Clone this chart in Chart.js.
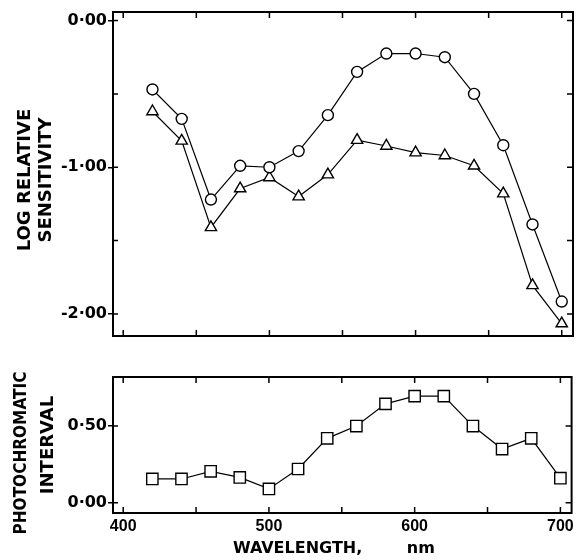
<!DOCTYPE html>
<html>
<head>
<meta charset="utf-8">
<script src="https://cdn.jsdelivr.net/npm/chart.js@4.4.0/dist/chart.umd.min.js"></script>
<style>
  html, body { margin: 0; padding: 0; background: #fff; }
  #wrap { position: relative; width: 581px; height: 560px; }
  #topBox { position: absolute; left: 0; top: 0; width: 581px; height: 350px; }
  #botBox { position: absolute; left: 0; top: 360px; width: 581px; height: 200px; }
</style>
</head>
<body>
<div id="wrap">
  <div id="topBox"><canvas id="sensChart"></canvas></div>
  <div id="botBox"><canvas id="intervalChart"></canvas></div>
</div>
<script>
// wavelength, nm
const wavelengths = [420, 440, 460, 480, 500, 520, 540, 560, 580, 600, 620, 640, 660, 680, 700];
// circles - achromatic (detection) threshold
const achromaticSens = [-0.47, -0.67, -1.22, -0.99, -1.00, -0.89, -0.645, -0.35, -0.225, -0.225, -0.25, -0.50, -0.85, -1.39, -1.915];
// triangles - chromatic threshold
const chromaticSens = [-0.62, -0.82, -1.41, -1.145, -1.07, -1.20, -1.05, -0.815, -0.855, -0.90, -0.92, -0.99, -1.18, -1.805, -2.065];
// squares - photochromatic interval
const photochromaticInterval = [0.155, 0.155, 0.205, 0.165, 0.09, 0.22, 0.42, 0.50, 0.645, 0.695, 0.695, 0.50, 0.35, 0.42, 0.16];

const sensTitle = ['LOG RELATIVE', 'SENSITIVITY'];
const intervalTitle = ['PHOTOCHROMATIC', 'INTERVAL'];
const xTitle = 'WAVELENGTH,        nm   ';

Chart.defaults.font.family = '"DejaVu Sans"';
Chart.defaults.color = '#000';

const isWhole = v => Math.abs(v - Math.round(v)) < 1e-6;
const fmt = v => (v < -1e-9 ? '-' : '') + Math.abs(v).toFixed(2).replace('.', '·');

// box round the plot + inward ticks on all four sides
const framePlugin = {
  id: 'frame',
  beforeDatasetsDraw(chart) {
    const { ctx, chartArea: a, scales } = chart;
    ctx.save();
    ctx.strokeStyle = '#000';
    ctx.lineWidth = 2;
    ctx.strokeRect(a.left, a.top, a.right - a.left, a.bottom - a.top);
    ctx.lineWidth = 1.5;
    ctx.beginPath();
    scales.x.ticks.forEach(t => {
      const px = scales.x.getPixelForValue(t.value);
      ctx.moveTo(px, a.top); ctx.lineTo(px, a.top + 6);
      ctx.moveTo(px, a.bottom); ctx.lineTo(px, a.bottom - 6);
    });
    scales.y.ticks.forEach(t => {
      const py = scales.y.getPixelForValue(t.value);
      ctx.moveTo(a.left, py); ctx.lineTo(a.left + 5, py);
      ctx.moveTo(a.right, py); ctx.lineTo(a.right - 6, py);
    });
    ctx.stroke();
    ctx.restore();
  }
};

// rotated two-line title on the left
function sideTitle(lines, spots) {
  return {
    id: 'sideTitle',
    afterDraw(chart) {
      const ctx = chart.ctx;
      ctx.save();
      ctx.fillStyle = '#000';
      ctx.textAlign = 'center';
      ctx.textBaseline = 'middle';
      lines.forEach((txt, i) => {
        const s = spots[i];
        ctx.save();
        ctx.translate(s.x, s.y);
        ctx.rotate(-Math.PI / 2);
        ctx.font = 'bold ' + s.size + 'px "DejaVu Sans"';
        ctx.fillText(txt, 0, 0, s.len);
        ctx.restore();
      });
      ctx.restore();
    }
  };
}

const yTickFont = { size: 16, weight: 'bold', family: '"DejaVu Sans"' };
const leftGrid = {
  drawOnChartArea: false,
  drawTicks: true,
  tickLength: 5,
  lineWidth: 1.5,
  color: c => (c.tick && isWhole(c.tick.value)) ? '#000' : 'rgba(0,0,0,0)'
};

// 上图：灵敏度
new Chart(document.getElementById('sensChart'), {
  type: 'line',
  data: {
    datasets: [
      {
        data: wavelengths.map((w, i) => ({ x: w, y: achromaticSens[i] })),
        borderColor: '#000', borderWidth: 1.2,
        pointStyle: 'circle', pointRadius: 5.5, pointBorderWidth: 1.4,
        pointBackgroundColor: '#fff', pointBorderColor: '#000'
      },
      {
        data: wavelengths.map((w, i) => ({ x: w, y: chromaticSens[i] })),
        borderColor: '#000', borderWidth: 1.2,
        pointStyle: 'triangle', pointRadius: 6.5, pointBorderWidth: 1.4,
        pointBackgroundColor: '#fff', pointBorderColor: '#000'
      }
    ]
  },
  options: {
    responsive: true,
    maintainAspectRatio: false,
    animation: false,
    layout: { padding: { top: 12, right: 8, left: 0, bottom: 0 } },
    plugins: { legend: { display: false }, tooltip: { enabled: false } },
    scales: {
      x: {
        type: 'linear', min: 393, max: 707.7,
        ticks: { display: false, stepSize: 50, includeBounds: false },
        grid: { display: false, drawTicks: false },
        border: { display: false },
        afterFit: s => { s.height = 14; }
      },
      y: {
        min: -2.15, max: 0.058,
        ticks: {
          stepSize: 0.5, includeBounds: false, padding: 1,
          font: yTickFont,
          callback: v => isWhole(v) ? fmt(v) : ''
        },
        grid: leftGrid,
        border: { display: false },
        afterFit: s => { s.width = 113; }
      }
    }
  },
  plugins: [framePlugin, sideTitle(sensTitle, [
    { x: 25, y: 180, size: 18, len: 150 },
    { x: 46, y: 180, size: 18, len: 136 }
  ])]
});

// 下图：光色间隔
new Chart(document.getElementById('intervalChart'), {
  type: 'line',
  data: {
    datasets: [{
      data: wavelengths.map((w, i) => ({ x: w, y: photochromaticInterval[i] })),
      borderColor: '#000', borderWidth: 1.2,
      pointStyle: 'rect', pointRadius: 8, pointBorderWidth: 1.4,
      pointBackgroundColor: '#fff', pointBorderColor: '#000'
    }]
  },
  options: {
    responsive: true,
    maintainAspectRatio: false,
    animation: false,
    layout: { padding: { top: 17, right: 8, left: 0, bottom: 0 } },
    plugins: { legend: { display: false }, tooltip: { enabled: false } },
    scales: {
      x: {
        type: 'linear', min: 393, max: 707.7,
        ticks: {
          stepSize: 50, includeBounds: false, padding: 4, maxRotation: 0, autoSkip: false,
          font: { size: 16, weight: 'bold', family: '"Liberation Sans"' },
          callback: v => (v % 100 === 0 ? String(v) : '')
        },
        grid: { display: false, drawTicks: false },
        border: { display: false },
        title: {
          display: true, text: xTitle,
          font: { size: 16, weight: 'bold', family: '"DejaVu Sans"' },
          padding: { top: 0, bottom: 2 }
        },
        afterFit: s => { s.height = 47; }
      },
      y: {
        min: -0.067, max: 0.82,
        ticks: {
          stepSize: 0.5, includeBounds: false, padding: 1,
          font: yTickFont,
          callback: v => fmt(v)
        },
        grid: Object.assign({}, leftGrid, { color: '#000' }),
        border: { display: false },
        afterFit: s => { s.width = 113; }
      }
    }
  },
  plugins: [framePlugin, sideTitle(intervalTitle, [
    { x: 21, y: 93, size: 18, len: 163 },
    { x: 48, y: 85, size: 18, len: 110 }
  ])]
});
</script>
</body>
</html>
